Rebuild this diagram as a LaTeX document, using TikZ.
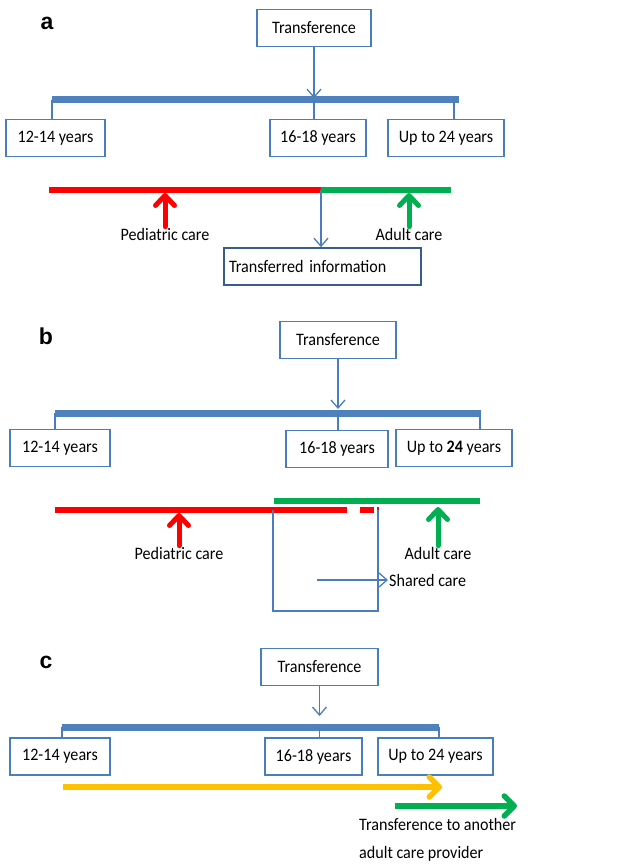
\documentclass[tikz,border=0pt]{standalone}
\usepackage{fontspec}
\usepackage{tikz}
\usetikzlibrary{arrows.meta,positioning}
\setmainfont{Carlito}[FakeStretch=0.92]
\newfontfamily\panelfont{Liberation Sans}
\definecolor{barblue}{HTML}{4F81BD}
\definecolor{boxblue}{HTML}{4A7EBB}
\definecolor{infoblue}{HTML}{385D8A}
\definecolor{carered}{HTML}{FF0000}
\definecolor{caregreen}{HTML}{00B050}
\definecolor{careyellow}{HTML}{FFC000}

\begin{document}
\begin{tikzpicture}[x=1pt,y=-1pt,
    box/.style={draw=boxblue, line width=1.3pt, minimum height=37pt, inner sep=2pt, font=\fontsize{17.5}{20}\selectfont},
    label/.style={inner sep=1pt, font=\fontsize{17.5}{20}\selectfont},
    panel/.style={font=\panelfont\bfseries\fontsize{23}{26}\selectfont},
    bar/.style={barblue, line width=7pt},
    link/.style={boxblue, line width=1.3pt},
    tip/.style={-{Straight Barb[length=8pt,width=14pt]}},
    careline/.style={line width=6pt},
    up/.style={line width=5pt, line cap=round, -{Straight Barb[length=10pt,width=19pt,round]}, shorten >=3pt},
    along/.style={line width=5.5pt, -{Straight Barb[length=10pt,width=20pt,round]}}]
    \useasboundingbox (0,0) rectangle (622,866);

    % panel a
    \node[panel] (pa) at (47,23) {a};
    \node[box, minimum width=114pt] (ta) at (314,28) {Transference};
    \coordinate (bara-l) at (52,100);
    \coordinate (bara-r) at (459,100);
    \draw[bar] (bara-l) -- (bara-r);
    \node[box, minimum width=99pt] (a1) at (55.5,138) {12-14 years};
    \node[box, minimum width=96pt] (a2) at (318,138) {16-18 years};
    \node[box, minimum width=116pt] (a3) at (446,138) {Up to 24 years};
    \draw[link, tip] (ta.south) -- ++(0,51);
    \draw[link] (a1.north -| bara-l) -- (bara-l);
    \draw[link] (a2.north -| ta.south) -- (ta.south |- bara-l);
    \draw[link] (a3.north -| 454,0) -- (454,100);
    \coordinate (reda-l) at (49,190);
    \coordinate (splita) at (321,190);
    \coordinate (greena-r) at (451,190);
    \draw[careline, carered] (reda-l) -- (splita);
    \draw[careline, caregreen] (splita) -- (greena-r);
    \node[label] (peda) at (165,234) {Pediatric care};
    \node[label] (adulta) at (409,234) {Adult care};
    \draw[up, carered] (peda.north) -- (peda.north |- reda-l);
    \draw[up, caregreen] (adulta.north) -- (adulta.north |- greena-r);
    \node[box, draw=infoblue, line width=1.6pt, minimum width=197pt, text width=187pt, align=left] (info) at (322.5,266.5) {Transferred information};
    \draw[link, tip] (splita) -- (splita |- info.north);

    % panel b
    \node[panel] (pb) at (46,336) {b};
    \node[box, minimum width=116pt] (tb) at (338,340) {Transference};
    \coordinate (barb-l) at (55,413);
    \coordinate (barb-r) at (481,413);
    \draw[bar] (barb-l) -- (barb-r);
    \node[box, minimum width=100pt] (b1) at (60,448) {12-14 years};
    \node[box, minimum width=102pt] (b2) at (337,449) {16-18 years};
    \node[box, minimum width=116pt] (b3) at (454,448) {Up to \textbf{24} years};
    \draw[link, tip] (tb.south) -- (tb.south |- 0,409);
    \draw[link] (b1.north -| barb-l) -- (barb-l);
    \draw[link] (b2.north -| tb.south) -- (tb.south |- barb-l);
    \draw[link] (b3.north -| 480,0) -- (480,413);
    \coordinate (greenb-l) at (274,501);
    \coordinate (greenb-r) at (480,501);
    \coordinate (redb-l) at (55,510);
    \draw[careline, caregreen] (greenb-l) -- (greenb-r);
    \draw[careline, carered] (redb-l) -- (347,510);
    \draw[careline, carered] (360,510) -- (374,510);
    \draw[careline, carered] (377,510) -- (379,510);
    \node[label] (pedb) at (179,553) {Pediatric care};
    \node[label] (adultb) at (438,553) {Adult care};
    \draw[up, carered] (pedb.north) -- (pedb.north |- redb-l);
    \draw[up, caregreen] (adultb.north) -- (adultb.north |- 0,504);
    \coordinate (brk-tl) at (273,510);
    \coordinate (brk-bl) at (273,611);
    \coordinate (brk-tr) at (378,510);
    \draw[link] (brk-tl) -- (brk-bl) -| (brk-tr);
    \node[label, anchor=west] (shared) at (388,580) {Shared care};
    \coordinate (shared-from) at (317,580);
    \draw[link, tip] (shared-from) -- (shared.west);

    % panel c
    \node[panel] (pc) at (46,662) {c};
    \node[box, minimum width=117pt] (tc) at (319.5,667) {Transference};
    \coordinate (barc-l) at (62,727);
    \coordinate (barc-r) at (439,727);
    \draw[bar] (barc-l) -- (barc-r);
    \node[box, minimum width=100pt] (c1) at (60,756.5) {12-14 years};
    \node[box, minimum width=97pt] (c2) at (313.5,756.5) {16-18 years};
    \node[box, minimum width=115pt] (c3) at (435.5,756.5) {Up to 24 years};
    \draw[link, tip] (tc.south) -- (tc.south |- 0,716);
    \draw[link] (c1.north -| barc-l) -- (barc-l);
    \draw[link] (c2.north -| tc.south) -- (tc.south |- barc-l);
    \draw[link] (c3.north -| barc-r) -- (barc-r);
    \coordinate (ped-start) at (63,787);
    \coordinate (ped-end) at (442,787);
    \draw[along, careyellow] (ped-start) -- (ped-end);
    \coordinate (adult-start) at (395,806);
    \coordinate (adult-end) at (517,806);
    \draw[along, caregreen] (adult-start) -- (adult-end);
    \node[label, anchor=north west, align=left, font=\fontsize{17.5}{28}\selectfont] (another) at (358,817) {Transference to another\\adult care provider};
\end{tikzpicture}
\end{document}
